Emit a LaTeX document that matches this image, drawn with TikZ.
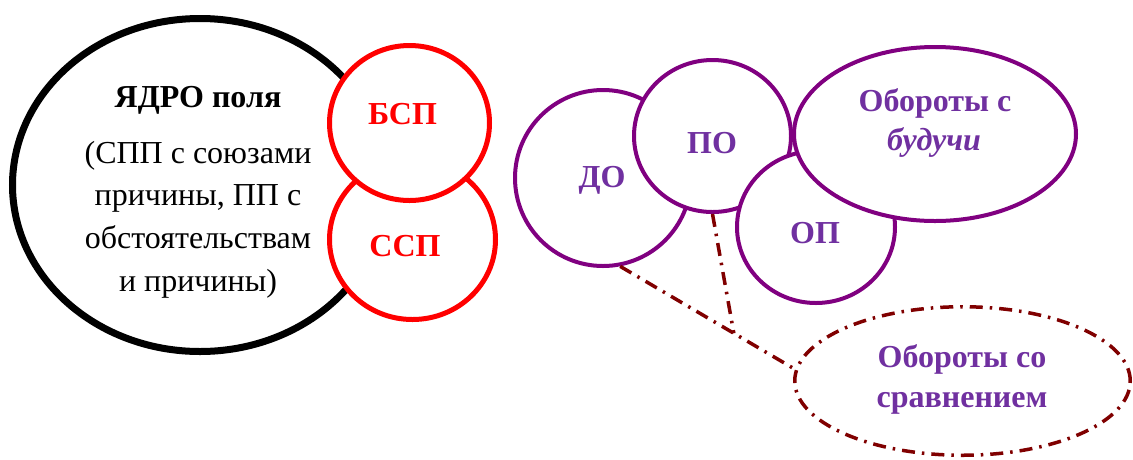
\documentclass[tikz,border=0pt]{standalone}
\usepackage{fontspec}
\setmainfont{Liberation Serif}
\usetikzlibrary{shapes.geometric,calc}
\definecolor{pstroke}{RGB}{128,0,128}
\definecolor{ptext}{RGB}{112,48,160}
\definecolor{maroonc}{RGB}{128,0,0}
\begin{document}
\begin{tikzpicture}[x=1pt,y=-1pt,
  shp/.style={ellipse, draw, fill=white, inner sep=0pt},
  corestyle/.style={shp, line width=7pt, draw=black},
  redc/.style={shp, line width=5pt, draw=red},
  purc/.style={shp, line width=4pt, draw=pstroke},
  ddash/.style={line width=3.5pt, draw=maroonc, dash pattern=on 13pt off 7pt on 2.5pt off 7pt},
  dotc/.style={shp, ddash},
  txt/.style={anchor=base, inner sep=0pt, font=\fontsize{32}{40}\selectfont},
  btxt/.style={txt, font=\fontsize{32}{40}\selectfont\bfseries},
  redt/.style={btxt, text=red},
  purt/.style={btxt, text=ptext}
]
\useasboundingbox (0,0) rectangle (1133,459);

% core field
\node[corestyle, minimum width=375pt, minimum height=333pt] (core) at (200,185) {};
\node[redc, minimum width=166pt, minimum height=160pt] (ssp) at (412.5,239.5) {};
\node[redc, minimum width=160pt, minimum height=155pt] (bsp) at (409.5,123) {};

% periphery
\node[purc, minimum width=176pt, minimum height=176pt] (do) at (603,178) {};
\node[purc, minimum width=157pt, minimum height=152pt] (po) at (712.5,136) {};
\node[purc, minimum width=158pt, minimum height=152pt] (op) at (816,227) {};
\node[purc, minimum width=282pt, minimum height=174pt] (bud) at (935,134) {};

% comparison
\node[dotc, minimum width=335.5pt, minimum height=148.5pt] (cmp) at (962.5,381) {};
\coordinate (j) at ($(do.-79)!0.65!(cmp.176)$);
\draw[ddash] (do.-79) -- (cmp.176);
\draw[ddash] (po.south) -- (j);

% texts
\node[btxt] (t1) at (198,107) {ЯДРО поля};
\node[txt] (t2) at (198,163) {(СПП с союзами};
\node[txt] (t3) at (198,205) {причины, ПП с};
\node[txt] (t4) at (198,248) {обстоятельствам};
\node[txt] (t5) at (198,291) {и причины)};

\node[redt] (tb) at (402.5,124) {БСП};
\node[redt] (ts) at (405,256) {ССП};

\node[purt] (tdo) at (602,187) {ДО};
\node[purt] (tpo) at (712,153) {ПО};
\node[purt] (top) at (815,243) {ОП};
\node[purt] (tbud1) at (935,111) {Обороты с};
\node[purt] (tbud2) at (934,150) {\itshape будучи};
\node[purt] (tc1) at (962,367) {Обороты со};
\node[purt] (tc2) at (962,407) {сравнением};
\end{tikzpicture}
\end{document}
